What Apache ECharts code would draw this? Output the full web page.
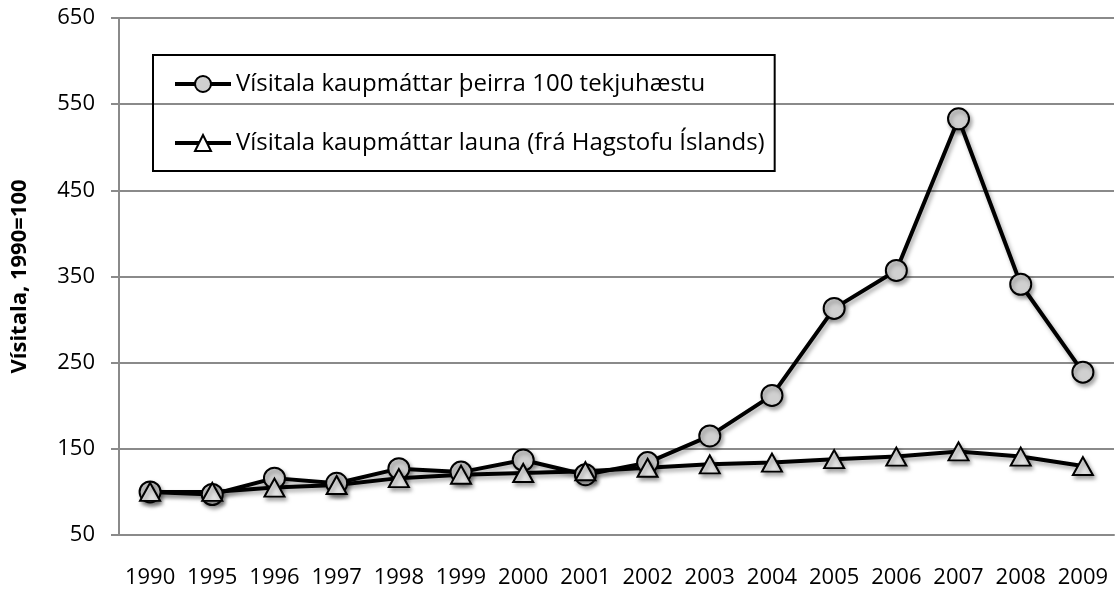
<!DOCTYPE html>
<html>
<head>
<meta charset="utf-8">
<script src="https://cdn.jsdelivr.net/npm/echarts@6/dist/echarts.min.js"></script>
<style>
  html, body { margin: 0; padding: 0; background: #fff; }
  #chart { width: 1116px; height: 589px; }
</style>
</head>
<body>
<div id="chart"></div>
<script>
const years = ['1990', '1995', '1996', '1997', '1998', '1999', '2000', '2001',
  '2002', '2003', '2004', '2005', '2006', '2007', '2008', '2009'];
// top 100 earners purchasing power index
const top100 = [100, 97, 116, 110, 127, 123, 137, 120, 134, 165, 212, 313, 357, 533, 341, 239];
// wage purchasing power index (Statistics Iceland)
const wages = [100, 100, 105, 108, 116, 120, 122, 124, 128, 132, 134, 138, 141, 147, 141, 130];

const nameTop = 'Vísitala kaupmáttar þeirra 100 tekjuhæstu';
const nameWages = 'Vísitala kaupmáttar launa (frá Hagstofu Íslands)';

const font = '"Open Sans", sans-serif';
const gray = '#8a8a8a';
const shadow = {
  shadowColor: 'rgba(0,0,0,0.35)',
  shadowBlur: 4,
  shadowOffsetX: 2,
  shadowOffsetY: 3
};

const chart = echarts.init(document.getElementById('chart'));

const options = {
  animation: false,
  grid: {
    left: 119,
    right: 2,
    top: 18,
    bottom: 53
  },
  legend: {
    orient: 'vertical',
    left: 153,
    top: 55,
    padding: [17, 10, 16, 20],
    itemGap: 35,
    itemWidth: 56,
    itemHeight: 20,
    borderColor: '#000',
    borderWidth: 2,
    lineStyle: { width: 4, shadowBlur: 0, shadowOffsetX: 0, shadowOffsetY: 0 },
    textStyle: { fontFamily: font, fontSize: 24, color: '#000' },
    data: [
      { name: nameTop },
      { name: nameWages, itemStyle: { color: '#fff' } }
    ]
  },
  xAxis: {
    type: 'category',
    data: years,
    boundaryGap: true,
    axisLine: { lineStyle: { color: gray, width: 2 } },
    axisTick: { length: 8, lineStyle: { color: gray, width: 2 } },
    axisLabel: { interval: 0, fontFamily: font, fontSize: 22, color: '#000', margin: 32 }
  },
  yAxis: {
    type: 'value',
    min: 50,
    max: 650,
    interval: 100,
    name: 'Vísitala, 1990=100',
    nameLocation: 'middle',
    nameGap: 88,
    nameTextStyle: { fontFamily: font, fontSize: 22, fontWeight: 'bold', color: '#000' },
    axisLine: { show: true, lineStyle: { color: gray, width: 2 } },
    axisTick: { show: true, length: 8, lineStyle: { color: gray, width: 2 } },
    axisLabel: { fontFamily: font, fontSize: 22, color: '#000', margin: 24 },
    splitLine: { lineStyle: { color: gray, width: 2 } }
  },
  series: [
    {
      name: nameTop,
      type: 'line',
      data: top100,
      symbol: 'circle',
      symbolSize: 21,
      lineStyle: Object.assign({ color: '#000', width: 4 }, shadow),
      itemStyle: Object.assign({ color: '#d0d0d0', borderColor: '#000', borderWidth: 2 }, shadow)
    },
    {
      name: nameWages,
      type: 'line',
      data: wages,
      symbol: 'triangle',
      symbolSize: [20, 18],
      lineStyle: Object.assign({ color: '#000', width: 4 }, shadow),
      itemStyle: Object.assign({ color: '#e3e3e3', borderColor: '#000', borderWidth: 2 }, shadow)
    }
  ]
};

chart.setOption(options);
window.addEventListener('resize', () => {
  chart && chart.resize();
});
</script>
</body>
</html>
